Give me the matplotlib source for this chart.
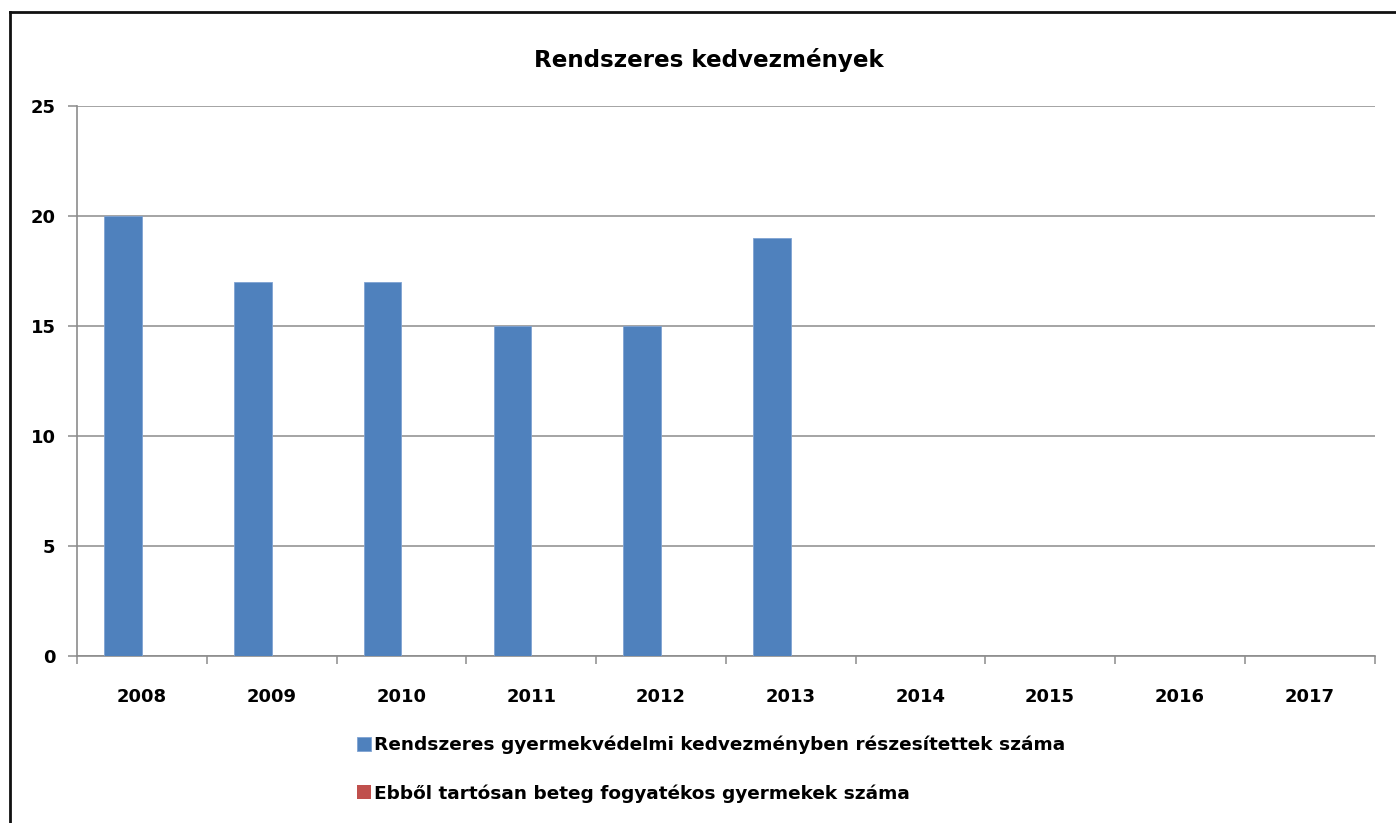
import matplotlib
matplotlib.use("Agg")
import matplotlib.pyplot as plt
from matplotlib.lines import Line2D
import numpy as np

# chart data
years = ["2008", "2009", "2010", "2011", "2012", "2013", "2014", "2015", "2016", "2017"]
rendszeres = [20, 17, 17, 15, 15, 19, 0, 0, 0, 0]
tartosan_beteg = [0, 0, 0, 0, 0, 0, 0, 0, 0, 0]
series_labels = [
    "Rendszeres gyermekvédelmi kedvezményben részesítettek száma",
    "Ebből tartósan beteg fogyatékos gyermekek száma",
]
title = "Rendszeres kedvezmények"

BLUE = "#4F81BD"
RED = "#C0504D"
GRAY = "#8C8C8C"

plt.rcParams["font.family"] = ["DejaVu Sans"]

fig = plt.figure(figsize=(13.96, 8.23), dpi=100)
ax = fig.add_axes([77 / 1396, 1 - 656 / 823, (1374.5 - 77) / 1396, (656 - 106) / 823])

x = np.arange(len(years))
w = 0.289
ax.bar(x - w / 2, rendszeres, width=w, color=BLUE, edgecolor="#7FA3D3",
       linewidth=0.6, label=series_labels[0], zorder=3)
ax.bar(x + w / 2, tartosan_beteg, width=w, color=RED, edgecolor=RED,
       linewidth=0, label=series_labels[1], zorder=3)

ax.set_xlim(-0.5, len(years) - 0.5)
ax.set_ylim(0, 25)
ax.set_yticks([0, 5, 10, 15, 20, 25])
ax.yaxis.grid(True, color=GRAY, linewidth=1.1, zorder=0)
ax.set_axisbelow(True)

ax.set_xticks(x)
ax.set_xticklabels(years, fontsize=13, fontweight="bold")
ax.set_xticks(np.arange(-0.5, len(years)), minor=True)
ax.tick_params(axis="x", which="major", length=0, pad=23)
ax.tick_params(axis="x", which="minor", length=6, width=1.1, color=GRAY, direction="out")
ax.tick_params(axis="y", length=6.5, width=1.1, color=GRAY, direction="out", pad=9,
               labelsize=13)
for lbl in ax.get_yticklabels():
    lbl.set_fontweight("bold")

for side in ["top", "right"]:
    ax.spines[side].set_visible(False)
for side in ["left", "bottom"]:
    ax.spines[side].set_color(GRAY)
    ax.spines[side].set_linewidth(1.2)

fig.text(709 / 1396, 1 - 60 / 823, title, ha="center", va="center",
         fontsize=16.6, fontweight="bold")

leg = fig.legend(loc="upper left", bbox_to_anchor=(357 / 1396, 1 - 736 / 823),
                 frameon=False, prop={"size": 13.3, "weight": "bold"},
                 handlelength=0.75, handleheight=0.75, handletextpad=0.15,
                 labelspacing=1.6, borderpad=0, borderaxespad=0)

# outer chart border (only left and top edges are visible in the crop)
fig.add_artist(Line2D([10 / 1396, 10 / 1396], [0, 1 - 12 / 823],
                      transform=fig.transFigure, color="#111111", linewidth=2))
fig.add_artist(Line2D([10 / 1396, 1], [1 - 12 / 823, 1 - 12 / 823],
                      transform=fig.transFigure, color="#111111", linewidth=2))

fig.savefig("out.png", dpi=100, facecolor="white")
